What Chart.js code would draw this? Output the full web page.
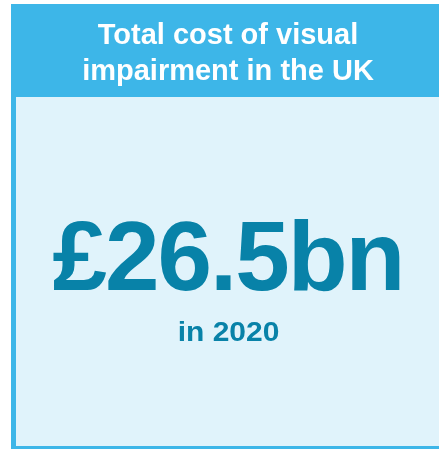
<!DOCTYPE html>
<html>
<head>
<meta charset="utf-8">
<script src="https://cdn.jsdelivr.net/npm/chart.js@4/dist/chart.umd.min.js"></script>
<style>
  html, body { margin: 0; padding: 0; background: #ffffff; }
  #wrap { width: 439px; height: 449px; position: relative; }
</style>
</head>
<body>
<div id="wrap"><canvas id="costChart"></canvas></div>
<script>
// figures shown on the card
const titleLines = ["Total cost of visual", "impairment in the UK"];
const costValue = 26.5;
const costUnit = "bn";
const costYear = "2020";

const headerBlue = "rgb(61,182,232)";
const panelBlue = "rgb(224,243,251)";
const textTeal = "rgb(8,130,168)";
const fontFamily = "'Liberation Sans', Arial, sans-serif";

// background card: blue frame + header band, light panel below
const cardPlugin = {
  id: "card",
  beforeDraw(chart) {
    const ctx = chart.ctx;
    ctx.save();
    ctx.fillStyle = "#ffffff";
    ctx.fillRect(0, 0, chart.width, chart.height);
    ctx.fillStyle = headerBlue;
    ctx.fillRect(11, 4, chart.width, chart.height - 4);
    ctx.fillStyle = panelBlue;
    ctx.fillRect(16, 97, chart.width, chart.height - 97 - 3);
    ctx.restore();
  },
  afterDraw(chart) {
    const ctx = chart.ctx;
    ctx.save();
    ctx.fillStyle = textTeal;
    ctx.textAlign = "center";
    ctx.textBaseline = "alphabetic";
    ctx.font = "bold 98px " + fontFamily;
    ctx.letterSpacing = "-2px";
    ctx.fillText("£" + costValue + costUnit, 228, 290);
    ctx.letterSpacing = "0px";
    // the year line is set a bit wider than the plain bold face
    ctx.translate(228.5, 341);
    ctx.scale(1.07, 1);
    ctx.font = "bold 28px " + fontFamily;
    ctx.fillText("in " + costYear, 0, 0);
    ctx.restore();
  }
};

const config = {
  type: "bar",
  data: {
    labels: [costYear],
    datasets: [{ label: "Total cost (£bn)", data: [], backgroundColor: textTeal }]
  },
  options: {
    responsive: true,
    maintainAspectRatio: false,
    animation: false,
    layout: { padding: { left: 17, right: 0, top: 0, bottom: 0 } },
    scales: { x: { display: false }, y: { display: false } },
    plugins: {
      legend: { display: false },
      tooltip: { enabled: false },
      title: {
        display: true,
        text: titleLines,
        color: "#ffffff",
        font: { family: fontFamily, size: 29, weight: "bold", lineHeight: 1.241 },
        padding: { top: 18, bottom: 10 }
      }
    }
  },
  plugins: [cardPlugin]
};

const costChart = new Chart(document.getElementById("costChart"), config);
</script>
</body>
</html>
